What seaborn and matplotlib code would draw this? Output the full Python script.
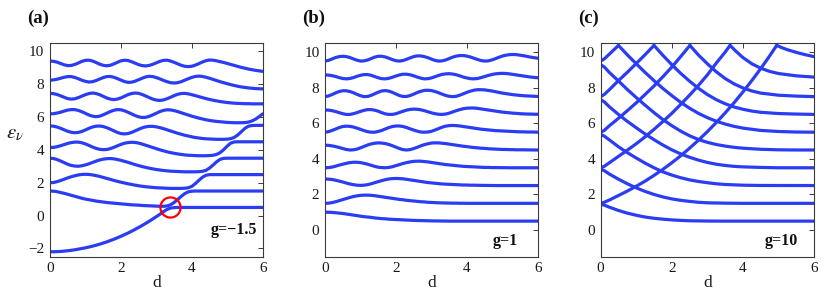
import matplotlib
matplotlib.use("Agg")
import matplotlib.pyplot as plt
import seaborn as sns

# ---------------- data ----------------
D_GRID = [0.0, 0.1, 0.2, 0.3, 0.4, 0.5, 0.6, 0.7, 0.8, 0.9,
          1.0, 1.1, 1.2, 1.3, 1.4, 1.5, 1.6, 1.7, 1.8, 1.9,
          2.0, 2.1, 2.2, 2.3, 2.4, 2.5, 2.6, 2.7, 2.8, 2.9,
          3.0, 3.1, 3.2, 3.3, 3.4, 3.5, 3.6, 3.7, 3.8, 3.9,
          4.0, 4.1, 4.2, 4.3, 4.4, 4.5, 4.6, 4.7, 4.8, 4.9,
          5.0, 5.1, 5.2, 5.3, 5.4, 5.5, 5.6, 5.7, 5.8, 5.9,
          6.0]

# panel (a): g = -1.5, ten lowest levels on D_GRID
A0 = [-2.2, -2.2, -2.19, -2.18, -2.16, -2.14, -2.11, -2.08, -2.04, -2.0,
      -1.96, -1.91, -1.86, -1.8, -1.74, -1.67, -1.6, -1.52, -1.44, -1.35,
      -1.26, -1.16, -1.06, -0.95, -0.84, -0.72, -0.6, -0.47, -0.34, -0.2,
      -0.06, 0.08, 0.24, 0.38, 0.46, 0.49, 0.5, 0.5, 0.5, 0.5,
      0.5, 0.5, 0.5, 0.5, 0.5, 0.5, 0.5, 0.5, 0.5, 0.5,
      0.5, 0.5, 0.5, 0.5, 0.5, 0.5, 0.5, 0.5, 0.5, 0.5,
      0.5]
A1 = [1.5, 1.49, 1.46, 1.41, 1.36, 1.3, 1.24, 1.18, 1.12, 1.06,
      1.01, 0.97, 0.93, 0.89, 0.86, 0.83, 0.8, 0.78, 0.76, 0.74,
      0.72, 0.7, 0.68, 0.66, 0.65, 0.64, 0.62, 0.61, 0.6, 0.59,
      0.58, 0.57, 0.57, 0.59, 0.66, 0.8, 0.98, 1.17, 1.34, 1.45,
      1.49, 1.5, 1.5, 1.5, 1.5, 1.5, 1.5, 1.5, 1.5, 1.5,
      1.5, 1.5, 1.5, 1.5, 1.5, 1.5, 1.5, 1.5, 1.5, 1.5,
      1.5]
A2 = [2.0, 2.02, 2.07, 2.14, 2.22, 2.3, 2.37, 2.43, 2.48, 2.51,
      2.52, 2.51, 2.48, 2.44, 2.39, 2.33, 2.27, 2.21, 2.15, 2.09,
      2.04, 1.99, 1.94, 1.9, 1.86, 1.82, 1.79, 1.76, 1.74, 1.72,
      1.7, 1.69, 1.68, 1.67, 1.66, 1.66, 1.66, 1.66, 1.67, 1.7,
      1.78, 1.95, 2.15, 2.34, 2.46, 2.5, 2.5, 2.5, 2.5, 2.5,
      2.5, 2.5, 2.5, 2.5, 2.5, 2.5, 2.5, 2.5, 2.5, 2.5,
      2.5]
A3 = [3.5, 3.48, 3.42, 3.33, 3.23, 3.13, 3.06, 3.02, 3.01, 3.04,
      3.09, 3.16, 3.24, 3.32, 3.39, 3.44, 3.47, 3.48, 3.46, 3.42,
      3.37, 3.31, 3.25, 3.18, 3.11, 3.05, 2.99, 2.94, 2.89, 2.85,
      2.81, 2.78, 2.75, 2.73, 2.71, 2.7, 2.69, 2.68, 2.67, 2.67,
      2.67, 2.67, 2.68, 2.7, 2.76, 2.9, 3.08, 3.28, 3.43, 3.49,
      3.5, 3.5, 3.5, 3.5, 3.5, 3.5, 3.5, 3.5, 3.5, 3.5,
      3.5]
A4 = [4.15, 4.16, 4.2, 4.26, 4.33, 4.4, 4.45, 4.48, 4.48, 4.44,
      4.37, 4.28, 4.18, 4.1, 4.04, 4.02, 4.03, 4.08, 4.16, 4.25,
      4.34, 4.41, 4.45, 4.47, 4.46, 4.42, 4.36, 4.29, 4.22, 4.15,
      4.08, 4.01, 3.95, 3.89, 3.84, 3.8, 3.76, 3.73, 3.7, 3.68,
      3.67, 3.66, 3.65, 3.65, 3.65, 3.66, 3.68, 3.73, 3.84, 4.02,
      4.24, 4.42, 4.49, 4.5, 4.5, 4.5, 4.5, 4.5, 4.5, 4.5,
      4.5]
A5 = [5.47, 5.45, 5.4, 5.32, 5.23, 5.14, 5.08, 5.05, 5.07, 5.13,
      5.22, 5.32, 5.4, 5.45, 5.46, 5.43, 5.36, 5.27, 5.17, 5.07,
      5.0, 4.98, 5.0, 5.07, 5.16, 5.26, 5.35, 5.41, 5.44, 5.44,
      5.41, 5.36, 5.3, 5.23, 5.16, 5.09, 5.02, 4.96, 4.9, 4.85,
      4.8, 4.76, 4.73, 4.7, 4.68, 4.67, 4.66, 4.65, 4.65, 4.65,
      4.66, 4.69, 4.77, 4.92, 5.12, 5.32, 5.45, 5.49, 5.5, 5.5,
      5.5]
A6 = [6.2, 6.21, 6.25, 6.3, 6.37, 6.43, 6.46, 6.46, 6.41, 6.33,
      6.23, 6.13, 6.06, 6.03, 6.06, 6.14, 6.24, 6.34, 6.42, 6.46,
      6.45, 6.39, 6.3, 6.2, 6.1, 6.02, 5.98, 5.99, 6.05, 6.14,
      6.24, 6.34, 6.41, 6.45, 6.44, 6.4, 6.34, 6.27, 6.2, 6.13,
      6.06, 6.0, 5.94, 5.89, 5.84, 5.8, 5.77, 5.74, 5.72, 5.7,
      5.68, 5.67, 5.66, 5.66, 5.66, 5.67, 5.7, 5.77, 5.88, 6.03,
      6.2]
A7 = [7.45, 7.43, 7.38, 7.3, 7.21, 7.13, 7.1, 7.12, 7.19, 7.28,
      7.37, 7.44, 7.47, 7.44, 7.37, 7.27, 7.17, 7.1, 7.07, 7.1,
      7.17, 7.27, 7.37, 7.44, 7.47, 7.45, 7.38, 7.29, 7.19, 7.1,
      7.04, 7.02, 7.05, 7.12, 7.21, 7.31, 7.39, 7.44, 7.45, 7.42,
      7.37, 7.31, 7.25, 7.19, 7.13, 7.08, 7.03, 6.99, 6.95, 6.92,
      6.89, 6.87, 6.85, 6.84, 6.83, 6.82, 6.82, 6.81, 6.81, 6.81,
      6.81]
A8 = [8.25, 8.27, 8.31, 8.37, 8.43, 8.47, 8.47, 8.42, 8.34, 8.25,
      8.18, 8.14, 8.16, 8.23, 8.32, 8.41, 8.47, 8.48, 8.43, 8.35,
      8.26, 8.17, 8.12, 8.13, 8.19, 8.28, 8.37, 8.45, 8.49, 8.47,
      8.41, 8.33, 8.24, 8.16, 8.1, 8.08, 8.1, 8.16, 8.25, 8.34,
      8.42, 8.48, 8.5, 8.48, 8.43, 8.37, 8.3, 8.23, 8.16, 8.1,
      8.04, 7.98, 7.93, 7.88, 7.84, 7.81, 7.78, 7.76, 7.74, 7.73,
      7.72]
A9 = [9.42, 9.4, 9.35, 9.27, 9.19, 9.14, 9.15, 9.21, 9.3, 9.4,
      9.46, 9.47, 9.42, 9.33, 9.23, 9.16, 9.13, 9.16, 9.24, 9.34,
      9.43, 9.47, 9.45, 9.38, 9.29, 9.2, 9.14, 9.12, 9.15, 9.22,
      9.31, 9.4, 9.46, 9.47, 9.42, 9.34, 9.25, 9.16, 9.1, 9.08,
      9.1, 9.17, 9.26, 9.36, 9.44, 9.48, 9.47, 9.43, 9.38, 9.33,
      9.27, 9.21, 9.15, 9.09, 9.03, 8.98, 8.93, 8.89, 8.85, 8.82,
      8.79]

# panel (b): g = 1
B0 = [1.0, 1.0, 0.99, 0.97, 0.95, 0.93, 0.9, 0.87, 0.84, 0.81,
      0.78, 0.75, 0.73, 0.71, 0.68, 0.66, 0.64, 0.63, 0.61, 0.6,
      0.59, 0.58, 0.57, 0.56, 0.55, 0.54, 0.535, 0.53, 0.525, 0.52,
      0.515, 0.51, 0.51, 0.505, 0.505, 0.5, 0.5, 0.5, 0.5, 0.5,
      0.5, 0.5, 0.5, 0.5, 0.5, 0.5, 0.5, 0.5, 0.5, 0.5,
      0.5, 0.5, 0.5, 0.5, 0.5, 0.5, 0.5, 0.5, 0.5, 0.5,
      0.5]
B1 = [1.5, 1.51, 1.54, 1.59, 1.65, 1.71, 1.77, 1.83, 1.88, 1.92,
      1.95, 1.96, 1.96, 1.95, 1.93, 1.9, 1.87, 1.84, 1.81, 1.78,
      1.75, 1.72, 1.7, 1.67, 1.65, 1.63, 1.61, 1.59, 1.58, 1.56,
      1.55, 1.54, 1.53, 1.525, 1.52, 1.515, 1.51, 1.51, 1.505, 1.505,
      1.5, 1.5, 1.5, 1.5, 1.5, 1.5, 1.5, 1.5, 1.5, 1.5,
      1.5, 1.5, 1.5, 1.5, 1.5, 1.5, 1.5, 1.5, 1.5, 1.5,
      1.5]
B2 = [2.87, 2.86, 2.84, 2.8, 2.75, 2.7, 2.64, 2.59, 2.55, 2.52,
      2.51, 2.52, 2.55, 2.6, 2.66, 2.72, 2.78, 2.83, 2.87, 2.89,
      2.9, 2.89, 2.88, 2.85, 2.82, 2.79, 2.76, 2.73, 2.7, 2.67,
      2.65, 2.63, 2.61, 2.59, 2.58, 2.57, 2.56, 2.55, 2.54, 2.53,
      2.53, 2.52, 2.52, 2.515, 2.51, 2.51, 2.505, 2.505, 2.5, 2.5,
      2.5, 2.5, 2.5, 2.5, 2.5, 2.5, 2.5, 2.5, 2.5, 2.5,
      2.5]
B3 = [3.5, 3.51, 3.54, 3.59, 3.65, 3.7, 3.75, 3.79, 3.81, 3.81,
      3.79, 3.75, 3.7, 3.64, 3.58, 3.53, 3.51, 3.5, 3.52, 3.56,
      3.62, 3.68, 3.74, 3.79, 3.83, 3.86, 3.87, 3.87, 3.85, 3.83,
      3.8, 3.77, 3.74, 3.71, 3.68, 3.66, 3.64, 3.62, 3.6, 3.58,
      3.57, 3.56, 3.55, 3.54, 3.53, 3.52, 3.52, 3.51, 3.51, 3.51,
      3.505, 3.505, 3.5, 3.5, 3.5, 3.5, 3.5, 3.5, 3.5, 3.5,
      3.5]
B4 = [4.77, 4.76, 4.73, 4.69, 4.64, 4.58, 4.53, 4.5, 4.51, 4.55,
      4.62, 4.7, 4.78, 4.84, 4.88, 4.9, 4.89, 4.86, 4.81, 4.74,
      4.66, 4.58, 4.52, 4.5, 4.52, 4.58, 4.65, 4.73, 4.8, 4.85,
      4.89, 4.9, 4.9, 4.88, 4.86, 4.83, 4.8, 4.77, 4.74, 4.71,
      4.69, 4.66, 4.64, 4.62, 4.6, 4.59, 4.57, 4.56, 4.55, 4.54,
      4.53, 4.53, 4.52, 4.52, 4.51, 4.51, 4.51, 4.505, 4.505, 4.5,
      4.5]
B5 = [5.5, 5.53, 5.6, 5.68, 5.76, 5.82, 5.84, 5.83, 5.79, 5.73,
      5.66, 5.59, 5.53, 5.5, 5.5, 5.54, 5.6, 5.68, 5.76, 5.82,
      5.85, 5.85, 5.82, 5.76, 5.69, 5.62, 5.56, 5.51, 5.5, 5.51,
      5.55, 5.62, 5.7, 5.78, 5.84, 5.87, 5.88, 5.87, 5.85, 5.82,
      5.79, 5.76, 5.73, 5.7, 5.67, 5.65, 5.63, 5.61, 5.59, 5.58,
      5.57, 5.56, 5.55, 5.54, 5.53, 5.52, 5.52, 5.51, 5.51, 5.51,
      5.5]
B6 = [6.75, 6.74, 6.71, 6.66, 6.6, 6.54, 6.5, 6.5, 6.54, 6.6,
      6.67, 6.73, 6.77, 6.77, 6.74, 6.68, 6.6, 6.53, 6.5, 6.5,
      6.54, 6.61, 6.68, 6.74, 6.78, 6.8, 6.79, 6.76, 6.71, 6.65,
      6.59, 6.54, 6.51, 6.5, 6.52, 6.57, 6.64, 6.71, 6.77, 6.82,
      6.85, 6.86, 6.86, 6.84, 6.81, 6.78, 6.75, 6.72, 6.69, 6.66,
      6.63, 6.61, 6.59, 6.57, 6.56, 6.54, 6.53, 6.52, 6.52, 6.51,
      6.51]
B7 = [7.5, 7.54, 7.62, 7.71, 7.79, 7.83, 7.83, 7.79, 7.72, 7.63,
      7.55, 7.5, 7.51, 7.57, 7.66, 7.75, 7.82, 7.84, 7.81, 7.74,
      7.65, 7.56, 7.51, 7.51, 7.56, 7.64, 7.73, 7.8, 7.85, 7.86,
      7.84, 7.79, 7.72, 7.64, 7.57, 7.52, 7.5, 7.52, 7.58, 7.66,
      7.74, 7.81, 7.86, 7.89, 7.89, 7.88, 7.85, 7.82, 7.78, 7.74,
      7.7, 7.67, 7.64, 7.61, 7.59, 7.57, 7.55, 7.54, 7.53, 7.52,
      7.51]
B8 = [8.72, 8.71, 8.68, 8.63, 8.57, 8.52, 8.5, 8.52, 8.57, 8.64,
      8.7, 8.74, 8.74, 8.7, 8.63, 8.56, 8.51, 8.5, 8.53, 8.59,
      8.66, 8.72, 8.76, 8.76, 8.73, 8.67, 8.6, 8.54, 8.5, 8.51,
      8.55, 8.62, 8.69, 8.75, 8.78, 8.79, 8.77, 8.73, 8.67, 8.6,
      8.55, 8.51, 8.5, 8.52, 8.57, 8.63, 8.69, 8.74, 8.78, 8.8,
      8.81, 8.8, 8.78, 8.75, 8.72, 8.69, 8.66, 8.63, 8.6, 8.58,
      8.56]
B9 = [9.5, 9.54, 9.62, 9.7, 9.75, 9.77, 9.75, 9.7, 9.62, 9.55,
      9.5, 9.51, 9.56, 9.64, 9.72, 9.77, 9.77, 9.73, 9.66, 9.58,
      9.52, 9.5, 9.53, 9.6, 9.68, 9.75, 9.79, 9.79, 9.75, 9.69,
      9.61, 9.54, 9.5, 9.51, 9.56, 9.64, 9.72, 9.78, 9.81, 9.81,
      9.78, 9.73, 9.66, 9.59, 9.53, 9.5, 9.51, 9.56, 9.63, 9.71,
      9.78, 9.83, 9.86, 9.87, 9.86, 9.83, 9.8, 9.76, 9.72, 9.69,
      9.66]

# panel (c): g = 10, rising and falling branches (x, y pairs per branch)
CR0_X = [0, 0.1, 0.25, 0.5, 0.75, 1, 1.25, 1.5, 1.75, 2, 2.25, 2.5, 2.75,
         3, 3.25, 3.5, 3.75, 4, 4.25, 4.5, 4.75, 4.95]
CR0_Y = [1.5, 1.56, 1.69, 1.94, 2.19, 2.46, 2.75, 3.07, 3.41, 3.78, 4.17,
         4.6, 5.05, 5.53, 6.04, 6.58, 7.15, 7.76, 8.4, 9.07, 9.78, 10.38]
CR1_X = [0, 0.1, 0.25, 0.5, 0.75, 1, 1.25, 1.5, 1.75, 2, 2.25, 2.5, 2.75,
         3, 3.25, 3.5, 3.64]
CR1_Y = [3.5, 3.58, 3.79, 4.14, 4.49, 4.85, 5.24, 5.66, 6.1, 6.56, 7.06,
         7.58, 8.13, 8.72, 9.38, 10.0, 10.38]
CR2_X = [0, 0.1, 0.25, 0.5, 0.75, 1, 1.25, 1.5, 1.75, 2, 2.25, 2.51]
CR2_Y = [5.5, 5.6, 5.87, 6.28, 6.71, 7.15, 7.62, 8.1, 8.62, 9.16, 9.75, 10.38]
CR3_X = [0, 0.1, 0.25, 0.5, 0.75, 1, 1.25, 1.5]
CR3_Y = [7.5, 7.62, 7.9, 8.4, 8.87, 9.36, 9.86, 10.38]
CR4_X = [0, 0.1, 0.25, 0.5]
CR4_Y = [9.5, 9.62, 9.9, 10.38]
CF0_X = [0, 0.1, 0.25, 0.5, 0.75, 1, 1.25, 1.5, 1.75, 2, 2.25, 2.5, 3, 3.5, 6]
CF0_Y = [1.45, 1.4, 1.28, 1.1, 0.95, 0.83, 0.73, 0.66, 0.61, 0.57, 0.54,
         0.52, 0.505, 0.5, 0.5]
CF1_X = [0, 0.1, 0.25, 0.5, 0.75, 1, 1.25, 1.5, 1.75, 2, 2.25, 2.5, 2.75,
         3, 3.5, 4, 6]
CF1_Y = [3.42, 3.34, 3.14, 2.86, 2.6, 2.37, 2.17, 2.0, 1.86, 1.75, 1.67,
         1.61, 1.56, 1.53, 1.51, 1.5, 1.5]
CF2_X = [0, 0.1, 0.25, 0.5, 0.75, 1, 1.25, 1.5, 1.75, 2, 2.25, 2.5, 2.75,
         3, 3.25, 3.5, 4, 4.5, 6]
CF2_Y = [5.38, 5.28, 5.06, 4.68, 4.35, 4.05, 3.76, 3.5, 3.27, 3.09, 2.94,
         2.82, 2.73, 2.66, 2.6, 2.56, 2.52, 2.505, 2.5]
CF3_X = [0, 0.1, 0.25, 0.5, 0.75, 1, 1.25, 1.5, 1.75, 2, 2.25, 2.5, 2.75,
         3, 3.25, 3.5, 3.75, 4, 4.5, 5, 6]
CF3_Y = [7.33, 7.21, 6.92, 6.5, 6.11, 5.75, 5.4, 5.08, 4.78, 4.51, 4.28,
         4.09, 3.93, 3.8, 3.7, 3.63, 3.58, 3.55, 3.52, 3.5, 3.5]
CF4_X = [0, 0.1, 0.25, 0.5, 0.75, 1, 1.25, 1.5, 1.75, 2, 2.25, 2.5, 2.75,
         3, 3.25, 3.5, 3.75, 4, 4.25, 4.5, 5, 5.5, 6]
CF4_Y = [9.3, 9.17, 8.85, 8.38, 7.9, 7.45, 7.02, 6.6, 6.21, 5.87, 5.56,
         5.3, 5.09, 4.93, 4.81, 4.72, 4.65, 4.6, 4.57, 4.54, 4.51, 4.5, 4.5]
CF5_X = [0.5, 0.75, 1, 1.25, 1.5, 1.75, 2, 2.25, 2.5, 2.75, 3, 3.25, 3.5,
         3.75, 4, 4.5, 5, 5.5, 6]
CF5_Y = [10.38, 9.85, 9.35, 8.86, 8.4, 7.96, 7.56, 7.18, 6.85, 6.56, 6.32,
         6.12, 5.96, 5.83, 5.73, 5.6, 5.54, 5.51, 5.5]
CF6_X = [1.5, 1.75, 2, 2.25, 2.5, 2.75, 3, 3.25, 3.5, 3.75, 4, 4.25, 4.5,
         5, 5.5, 6]
CF6_Y = [10.38, 9.82, 9.3, 8.81, 8.37, 7.97, 7.62, 7.33, 7.1, 6.92, 6.79,
         6.69, 6.62, 6.55, 6.52, 6.5]
CF7_X = [2.51, 2.75, 3, 3.25, 3.5, 3.75, 4, 4.25, 4.5, 5, 5.5, 6]
CF7_Y = [10.38, 9.84, 9.35, 8.9, 8.52, 8.22, 7.99, 7.82, 7.7, 7.58, 7.53, 7.5]
CF8_X = [3.64, 3.8, 4, 4.25, 4.5, 4.75, 5, 5.5, 6]
CF8_Y = [10.38, 10.06, 9.7, 9.35, 9.1, 8.92, 8.8, 8.67, 8.6]
CF9_X = [4.95, 5.1, 5.25, 5.5, 5.75, 6]
CF9_Y = [10.38, 10.25, 10.14, 9.99, 9.86, 9.75]

CIRCLE_D = 3.39
CIRCLE_E = 0.5

PANEL_TAGS = ["(a)", "(b)", "(c)"]
G_LABELS = ["g=\u22121.5", "g=1", "g=10"]
X_TICKS = [0, 2, 4, 6]
Y_TICKS_A = [-2, 0, 2, 4, 6, 8, 10]
Y_TICKS_BC = [0, 2, 4, 6, 8, 10]

# ---------------- style ----------------
sns.set_theme(style="white")
plt.rcParams["font.family"] = ["Liberation Serif", "DejaVu Serif"]
plt.rcParams["mathtext.fontset"] = "stix"
plt.rcParams["axes.edgecolor"] = "#3a3a3a"
plt.rcParams["axes.linewidth"] = 0.8

BLUE = "#2a3cf4"
LW = 2.3

fig = plt.figure(figsize=(8.3, 3.01), dpi=100)
ax_a = fig.add_axes([0.0602, 0.1472, 0.2563, 0.709])
ax_b = fig.add_axes([0.3916, 0.1472, 0.2563, 0.709])
ax_c = fig.add_axes([0.7237, 0.1472, 0.2570, 0.709])


def curve(ax, xs, ys):
    sns.lineplot(x=xs, y=ys, ax=ax, color=BLUE, linewidth=LW,
                 errorbar=None, sort=False, legend=False)


for lev in [A0, A1, A2, A3, A4, A5, A6, A7, A8, A9]:
    curve(ax_a, D_GRID, lev)
for lev in [B0, B1, B2, B3, B4, B5, B6, B7, B8, B9]:
    curve(ax_b, D_GRID, lev)
for xs, ys in [(CR0_X, CR0_Y), (CR1_X, CR1_Y), (CR2_X, CR2_Y), (CR3_X, CR3_Y),
               (CR4_X, CR4_Y), (CF0_X, CF0_Y), (CF1_X, CF1_Y), (CF2_X, CF2_Y),
               (CF3_X, CF3_Y), (CF4_X, CF4_Y), (CF5_X, CF5_Y), (CF6_X, CF6_Y),
               (CF7_X, CF7_Y), (CF8_X, CF8_Y), (CF9_X, CF9_Y)]:
    curve(ax_c, xs, ys)

# red marker circle in (a)
ax_a.plot([CIRCLE_D], [CIRCLE_E], marker="o", markersize=14.5,
          markerfacecolor="none", markeredgecolor="#ff0000",
          markeredgewidth=1.6, linestyle="none", zorder=5)

G_POS = [(0.975, 0.125), (0.905, 0.075), (0.925, 0.075)]
for i, (ax, ylim, yt) in enumerate([
        (ax_a, (-2.5, 10.5), Y_TICKS_A),
        (ax_b, (-1.5, 10.5), Y_TICKS_BC),
        (ax_c, (-1.5, 10.5), Y_TICKS_BC)]):
    ax.set_xlim(0, 6)
    ax.set_ylim(*ylim)
    ax.set_xticks(X_TICKS)
    ax.set_yticks(yt)
    ax.set_xticklabels([str(v) for v in X_TICKS])
    ax.set_yticklabels([str(v).replace("-", "\u2212") for v in yt])
    ax.tick_params(direction="in", length=3.5, width=0.7, top=True,
                   right=True, labelsize=11, colors="#3a3a3a",
                   labelcolor="#1a1a1a", pad=4)
    for sp in ax.spines.values():
        sp.set_visible(True)
        sp.set_color("#3a3a3a")
        sp.set_linewidth(0.8)
    ax.set_xlabel("d", fontsize=12.5, labelpad=0, color="#1a1a1a")
    ax.set_ylabel("")
    gx, gy = G_POS[i]
    ax.text(gx, gy, G_LABELS[i], transform=ax.transAxes,
            ha="right", va="center", fontsize=11.5, fontweight="bold",
            color="#111111")
    ax.text(-0.108, 1.118, PANEL_TAGS[i], transform=ax.transAxes,
            ha="left", va="center", fontsize=13.5, fontweight="bold",
            color="#111111")

ax_a.set_ylabel(r"$\varepsilon_{\nu}$", rotation=0, fontsize=15,
                color="#1a1a1a")
ax_a.yaxis.set_label_coords(-0.165, 0.53)

fig.savefig("out.png", dpi=100)
